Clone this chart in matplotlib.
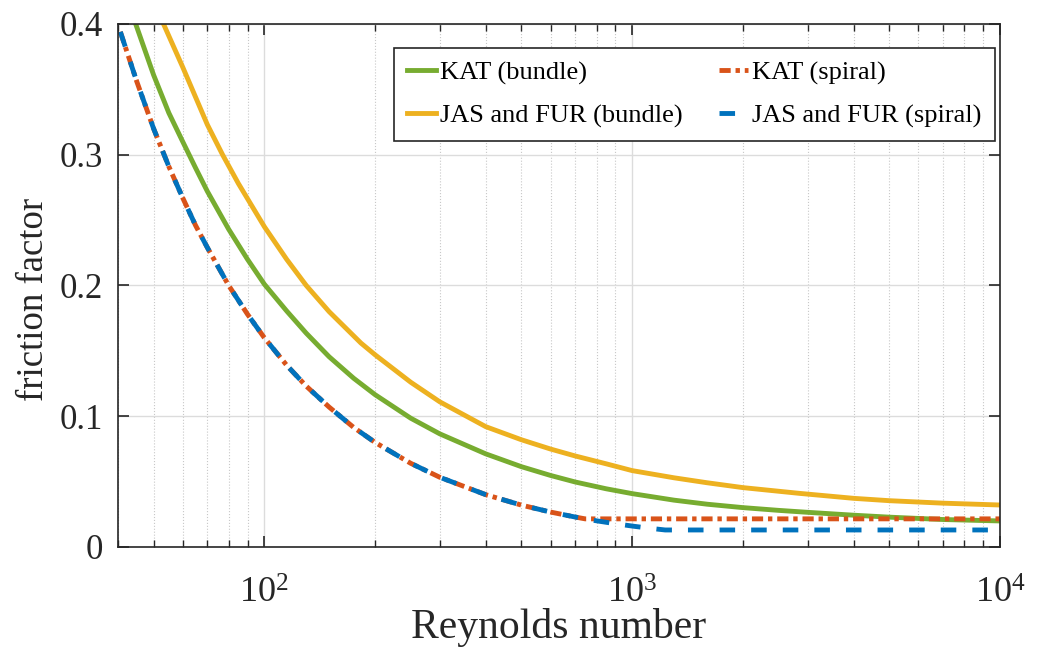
import numpy as np
import matplotlib
matplotlib.use("Agg")
import matplotlib.pyplot as plt
from matplotlib.ticker import LogLocator, LogFormatterMathtext, NullFormatter, MultipleLocator

plt.rcParams['font.family'] = ['Liberation Serif', 'DejaVu Serif']
plt.rcParams['mathtext.fontset'] = 'custom'
plt.rcParams['mathtext.rm'] = 'Liberation Serif'
plt.rcParams['mathtext.it'] = 'Liberation Serif:italic'

# values
re_kat_bundle = [44.7, 50, 55, 60, 65, 70, 80, 90, 100, 115, 130, 150, 175, 200, 250, 300,
                 400, 500, 600, 700, 850, 1000, 1300, 1600, 2000, 2500, 3000, 4000,
                 5000, 7000, 10000]
f_kat_bundle = [0.400, 0.361, 0.332, 0.310, 0.290, 0.272, 0.243, 0.220, 0.201, 0.1805,
                0.1635, 0.1455, 0.129, 0.1165, 0.0985, 0.0865, 0.0712, 0.0614, 0.0547,
                0.0497, 0.0445, 0.0408, 0.0358, 0.0327, 0.0301, 0.0280, 0.0265, 0.0243,
                0.0228, 0.0210, 0.0199]

re_jas_bundle = [53.2, 60, 70, 77, 85, 100, 115, 130, 150, 183, 200, 250, 300, 400, 500,
                 600, 700, 850, 1000, 1300, 1600, 2000, 2850, 4000, 5000, 7000, 10000]
f_jas_bundle = [0.400, 0.367, 0.323, 0.300, 0.278, 0.245, 0.220, 0.200, 0.180, 0.156,
                0.147, 0.126, 0.111, 0.092, 0.082, 0.0749, 0.0696, 0.0636, 0.0584,
                0.0529, 0.0491, 0.0454, 0.0410, 0.0372, 0.0354, 0.0335, 0.0321]

re_kat_spiral = [40.6, 45, 50, 55, 60, 65, 70, 80, 90, 100, 115, 130, 150, 175, 200, 250,
                 300, 400, 500, 600, 700, 745, 10000]
f_kat_spiral = [0.394, 0.356, 0.320, 0.291, 0.267, 0.246, 0.229, 0.200, 0.178, 0.160,
                0.139, 0.123, 0.107, 0.0914, 0.080, 0.064, 0.0533, 0.040, 0.032, 0.0267,
                0.0229, 0.0215, 0.0215]

re_jas_spiral = [40.6, 45, 50, 55, 60, 65, 70, 80, 90, 100, 115, 130, 150, 175, 200, 250,
                 300, 400, 500, 600, 700, 800, 900, 1000, 1100, 1230, 10000]
f_jas_spiral = [0.394, 0.356, 0.320, 0.291, 0.267, 0.246, 0.229, 0.200, 0.178, 0.160,
                0.139, 0.123, 0.107, 0.0914, 0.080, 0.064, 0.0533, 0.040, 0.032, 0.0267,
                0.0229, 0.0200, 0.0178, 0.0160, 0.0145, 0.0130, 0.0130]

labels = ['KAT (bundle)', 'KAT (spiral)', 'JAS and FUR (bundle)', 'JAS and FUR (spiral)']

fig = plt.figure(figsize=(10.42, 6.59), dpi=100)
ax = fig.add_axes([0.1132, 0.17, 0.8465, 0.7936])

lw = 3.5
h1, = ax.plot(re_kat_bundle, f_kat_bundle, color='#77AC30', lw=lw)
h2, = ax.plot(re_kat_spiral, f_kat_spiral, color='#D95319', lw=lw, dashes=(2.3, 1.0, 0.9, 1.0))
h3, = ax.plot(re_jas_bundle, f_jas_bundle, color='#EDB120', lw=lw)
h4, = ax.plot(re_jas_spiral, f_jas_spiral, color='#0072BD', lw=lw, dashes=(3.2, 3.3))

ax.set_xscale('log')
ax.set_xlim(40, 10000)
ax.set_ylim(0, 0.4)
ax.yaxis.set_major_locator(MultipleLocator(0.1))
ax.yaxis.set_major_formatter(plt.FuncFormatter(lambda v, p: '0' if abs(v) < 1e-9 else f'{v:.1f}'))
ax.xaxis.set_major_locator(LogLocator(base=10, numticks=10))
ax.xaxis.set_major_formatter(LogFormatterMathtext())
ax.xaxis.set_minor_locator(LogLocator(base=10, subs=np.arange(2, 10), numticks=20))
ax.xaxis.set_minor_formatter(NullFormatter())

ax.grid(True, which='major', color='#dcdcdc', lw=1.0)
ax.grid(True, which='minor', axis='x', color='#c8c8c8', lw=0.8, ls=':')
ax.set_axisbelow(True)

dark = '#262626'
for s in ax.spines.values():
    s.set_color(dark)
    s.set_linewidth(1.2)
ax.tick_params(which='both', direction='in', top=True, right=True, colors=dark,
               labelsize=25, pad=11)
ax.tick_params(which='major', length=8, width=1.2)
ax.tick_params(which='minor', length=5, width=1.0)
ax.tick_params(axis='x', which='major', labelsize=26, pad=22)

ax.set_xlabel('Reynolds number', fontsize=30, color=dark, labelpad=-2)
ax.set_ylabel('friction factor', fontsize=26.5, color=dark)
ax.yaxis.set_label_coords(-0.076, 0.474)

leg = ax.legend([h1, h3, h2, h4], [labels[0], labels[2], labels[1], labels[3]],
                ncol=2, loc='upper right', bbox_to_anchor=(0.9943, 0.954), borderaxespad=0,
                fontsize=19, handlelength=1.1, handletextpad=0.15, columnspacing=1.4,
                labelspacing=0.72, borderpad=0.5, fancybox=False, framealpha=1)
leg.get_frame().set_edgecolor(dark)
leg.get_frame().set_linewidth(1.2)

fig.savefig('out.png', dpi=100)
